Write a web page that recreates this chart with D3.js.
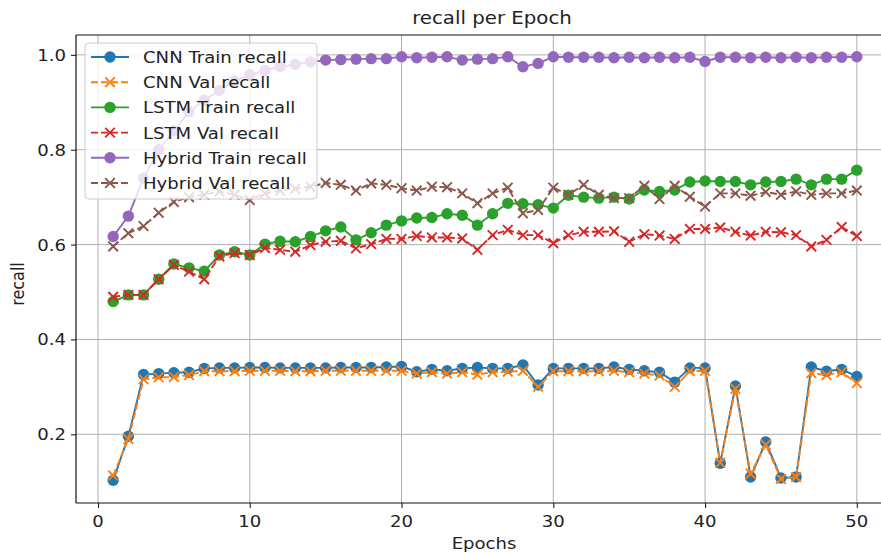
<!DOCTYPE html>
<html>
<head>
<meta charset="utf-8">
<script src="https://cdn.jsdelivr.net/npm/d3@7"></script>
<style>
  html, body { margin: 0; padding: 0; background: #fff; }
  svg { display: block; font-family: "DejaVu Sans", sans-serif; }
</style>
</head>
<body>
<svg id="chart" width="881" height="553"></svg>
<script>
// Recall per epoch for three model types (train / validation)
const epochs = d3.range(1, 51);

const cnnTrain = [0.103, 0.196, 0.326, 0.328, 0.330, 0.331, 0.339, 0.340, 0.340, 0.341,
  0.341, 0.340, 0.340, 0.340, 0.340, 0.341, 0.341, 0.341, 0.342, 0.343,
  0.332, 0.337, 0.334, 0.339, 0.341, 0.339, 0.339, 0.346, 0.304, 0.339,
  0.339, 0.339, 0.339, 0.342, 0.337, 0.334, 0.331, 0.310, 0.340, 0.340,
  0.139, 0.302, 0.110, 0.184, 0.108, 0.110, 0.342, 0.333, 0.337, 0.322];

const cnnVal = [0.113, 0.190, 0.316, 0.320, 0.321, 0.325, 0.333, 0.333, 0.333, 0.334,
  0.334, 0.334, 0.333, 0.333, 0.334, 0.334, 0.334, 0.334, 0.334, 0.334,
  0.328, 0.331, 0.328, 0.331, 0.326, 0.331, 0.332, 0.334, 0.300, 0.333,
  0.333, 0.333, 0.333, 0.334, 0.331, 0.328, 0.324, 0.300, 0.333, 0.334,
  0.140, 0.296, 0.117, 0.178, 0.106, 0.110, 0.329, 0.325, 0.331, 0.308];

const lstmTrain = [0.480, 0.494, 0.494, 0.527, 0.559, 0.551, 0.544, 0.578, 0.585, 0.578,
  0.601, 0.607, 0.606, 0.617, 0.629, 0.637, 0.610, 0.625, 0.641, 0.650,
  0.656, 0.657, 0.665, 0.662, 0.641, 0.665, 0.687, 0.686, 0.684, 0.677,
  0.704, 0.700, 0.698, 0.700, 0.696, 0.715, 0.712, 0.715, 0.732, 0.734,
  0.733, 0.733, 0.726, 0.732, 0.733, 0.738, 0.726, 0.738, 0.738, 0.757];

const lstmVal = [0.490, 0.494, 0.494, 0.527, 0.557, 0.543, 0.527, 0.575, 0.582, 0.578,
  0.593, 0.589, 0.585, 0.599, 0.606, 0.608, 0.592, 0.601, 0.612, 0.612,
  0.618, 0.615, 0.615, 0.613, 0.589, 0.620, 0.631, 0.620, 0.620, 0.603,
  0.620, 0.627, 0.627, 0.628, 0.606, 0.622, 0.619, 0.612, 0.633, 0.633,
  0.636, 0.627, 0.619, 0.627, 0.626, 0.620, 0.596, 0.610, 0.637, 0.618];

const hybridTrain = [0.617, 0.660, 0.740, 0.800, 0.840, 0.880, 0.905, 0.925, 0.945, 0.958,
  0.967, 0.975, 0.980, 0.985, 0.989, 0.990, 0.991, 0.992, 0.992, 0.996,
  0.994, 0.995, 0.996, 0.989, 0.991, 0.992, 0.996, 0.975, 0.982, 0.996,
  0.995, 0.995, 0.995, 0.994, 0.995, 0.994, 0.995, 0.994, 0.995, 0.986,
  0.995, 0.995, 0.994, 0.995, 0.994, 0.995, 0.994, 0.995, 0.995, 0.996];

const hybridVal = [0.596, 0.624, 0.639, 0.667, 0.690, 0.700, 0.705, 0.712, 0.705, 0.694,
  0.708, 0.714, 0.718, 0.722, 0.730, 0.726, 0.714, 0.729, 0.726, 0.719,
  0.714, 0.722, 0.721, 0.708, 0.687, 0.708, 0.720, 0.666, 0.673, 0.720,
  0.705, 0.726, 0.705, 0.698, 0.698, 0.724, 0.696, 0.724, 0.701, 0.680,
  0.708, 0.708, 0.703, 0.711, 0.705, 0.712, 0.705, 0.708, 0.708, 0.714];

const xTicks = [0, 10, 20, 30, 40, 50];
const yTicks = [0.2, 0.4, 0.6, 0.8, 1.0];

const series = [
  { name: "CNN Train recall",    values: cnnTrain,    color: "#1f77b4", marker: "o", dashed: false },
  { name: "CNN Val recall",      values: cnnVal,      color: "#ff7f0e", marker: "x", dashed: true },
  { name: "LSTM Train recall",   values: lstmTrain,   color: "#2ca02c", marker: "o", dashed: false },
  { name: "LSTM Val recall",     values: lstmVal,     color: "#d62728", marker: "x", dashed: true },
  { name: "Hybrid Train recall", values: hybridTrain, color: "#9467bd", marker: "o", dashed: false },
  { name: "Hybrid Val recall",   values: hybridVal,   color: "#8c564b", marker: "x", dashed: true }
];

// layout (the axes box runs past the right edge of the canvas)
const plotLeft = 76, plotRight = 894, plotTop = 35, plotBottom = 503;
const SX = 1.13; // horizontal text stretch
const svg = d3.select("#chart");
svg.append("rect").attr("width", 881).attr("height", 553).attr("fill", "#fff");

const x = d3.scaleLinear().domain([-1.45, 52.45]).range([plotLeft, plotRight]);
const y = d3.scaleLinear().domain([0.0552, 1.0419]).range([plotBottom, plotTop]);

function stretchedText(g, tx, ty, str, size, anchor, extra) {
  return g.append("text")
    .attr("transform", `translate(${tx},${ty}) scale(${SX},1)` + (extra || ""))
    .attr("font-size", size)
    .attr("text-anchor", anchor)
    .attr("fill", "#222")
    .text(str);
}

// grid
const grid = svg.append("g");
grid.selectAll("line.gx").data(xTicks).join("line")
  .attr("x1", d => x(d)).attr("x2", d => x(d))
  .attr("y1", plotTop).attr("y2", plotBottom)
  .attr("stroke", "#b0b0b0").attr("stroke-width", 1);
grid.selectAll("line.gy").data(yTicks).join("line")
  .attr("x1", plotLeft).attr("x2", plotRight)
  .attr("y1", d => y(d)).attr("y2", d => y(d))
  .attr("stroke", "#b0b0b0").attr("stroke-width", 1);

// axes via d3
const xAxis = d3.axisBottom(x).tickValues(xTicks).tickSize(5).tickFormat("");
const yAxis = d3.axisLeft(y).tickValues(yTicks).tickSize(5).tickFormat("");
const gx = svg.append("g").attr("transform", `translate(0,${plotBottom})`).call(xAxis);
const gy = svg.append("g").attr("transform", `translate(${plotLeft},0)`).call(yAxis);
[gx, gy].forEach(g => {
  g.select(".domain").remove();
  g.selectAll(".tick line").attr("stroke", "#222").attr("stroke-width", 1.1);
});
xTicks.forEach(t => stretchedText(svg, x(t), plotBottom + 24, String(t), 16, "middle"));
yTicks.forEach(t => stretchedText(svg, plotLeft - 10, y(t) + 6, d3.format(".1f")(t), 16, "end"));

// clip for data
svg.append("clipPath").attr("id", "plotclip").append("rect")
  .attr("x", plotLeft).attr("y", plotTop)
  .attr("width", plotRight - plotLeft).attr("height", plotBottom - plotTop);
const plot = svg.append("g").attr("clip-path", "url(#plotclip)");

const line = d3.line().x((d, i) => x(epochs[i])).y(d => y(d));

function drawMarker(g, cx, cy, s) {
  if (s.marker === "o") {
    g.append("circle").attr("cx", cx).attr("cy", cy).attr("r", 5.7).attr("fill", s.color);
  } else {
    const r = 4.8;
    g.append("path")
      .attr("d", `M${cx - r},${cy - r}L${cx + r},${cy + r}M${cx - r},${cy + r}L${cx + r},${cy - r}`)
      .attr("stroke", s.color).attr("stroke-width", 1.9).attr("fill", "none");
  }
}

series.forEach(s => {
  const g = plot.append("g");
  g.append("path").datum(s.values)
    .attr("d", line)
    .attr("fill", "none")
    .attr("stroke", s.color)
    .attr("stroke-width", 1.9)
    .attr("stroke-dasharray", s.dashed ? "7,3" : null);
  s.values.forEach((v, i) => drawMarker(g, x(epochs[i]), y(v), s));
});

// frame
const frame = [[plotLeft, plotTop, plotLeft, plotBottom], [plotLeft, plotBottom, plotRight, plotBottom],
  [plotLeft, plotTop, plotRight, plotTop], [plotRight, plotTop, plotRight, plotBottom]];
frame.forEach(([x1, y1, x2, y2]) => svg.append("line")
  .attr("x1", x1).attr("y1", y1).attr("x2", x2).attr("y2", y2)
  .attr("stroke", "#111").attr("stroke-width", 1.2));

// labels
stretchedText(svg, 492, 24, "recall per Epoch", 17.5, "middle");
stretchedText(svg, 484, 549, "Epochs", 16, "middle");
svg.append("text")
  .attr("transform", `translate(24,284) rotate(-90) scale(1,${SX})`)
  .attr("font-size", 16).attr("text-anchor", "middle").attr("fill", "#222")
  .text("recall");

// legend
const lg = svg.append("g");
lg.append("rect").attr("x", 85).attr("y", 43).attr("width", 232).attr("height", 156)
  .attr("rx", 4).attr("fill", "#fff").attr("fill-opacity", 0.8)
  .attr("stroke", "#cccccc").attr("stroke-width", 1);
const rowY = d3.scaleLinear().domain([0, 5]).range([57, 183]);
series.forEach((s, i) => {
  const cy = rowY(i);
  lg.append("line").attr("x1", 91).attr("x2", 129).attr("y1", cy).attr("y2", cy)
    .attr("stroke", s.color).attr("stroke-width", 1.9)
    .attr("stroke-dasharray", s.dashed ? "7,3" : null);
  drawMarker(lg, 110, cy, s);
  stretchedText(lg, 143, cy + 6, s.name, 16, "start");
});
</script>
</body>
</html>
